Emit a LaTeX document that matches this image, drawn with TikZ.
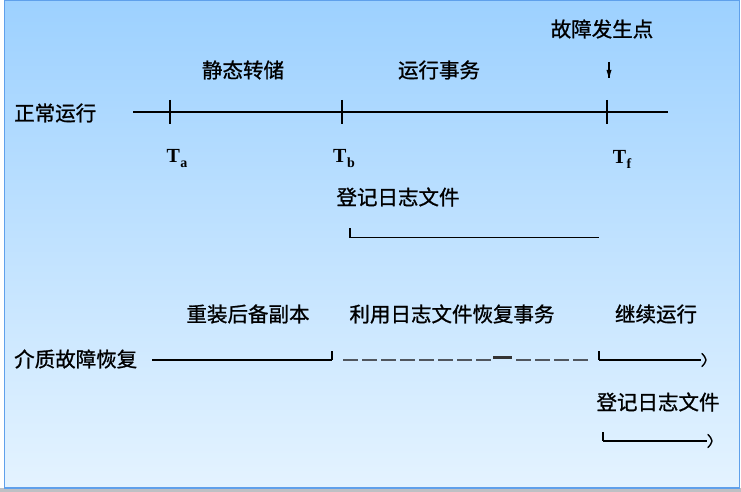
\documentclass[tikz,border=0pt]{standalone}
\usepackage{fontspec}
\setmainfont{Liberation Serif}
\newfontfamily\cjk{Noto Sans CJK SC}[FakeBold=1]
\definecolor{bgtop}{RGB}{157,209,255}
\definecolor{bgbot}{RGB}{228,243,255}
\definecolor{bord}{RGB}{95,160,235}
\definecolor{shadowgray}{RGB}{190,192,196}
\definecolor{dashgray}{RGB}{80,86,94}
\newcommand\Tsubs[1]{\textbf{T}\kern0.5pt\raisebox{-5pt}{\fontsize{14}{14}\selectfont\bfseries #1}}
\begin{document}
\begin{tikzpicture}[x=1pt,y=-1pt,
  lbl/.style={inner sep=0pt, font=\cjk\fontsize{20.5}{24}\selectfont},
  tnode/.style={inner sep=0pt, font=\fontsize{20}{22}\selectfont},
  axis/.style={line width=2pt, black},
  tickmark/.style={line width=2.4pt, black},
  dashseg/.style={line width=2pt, dashgray, dash pattern=on 14.5pt off 4.5pt},
  bolddash/.style={line width=2.6pt, black!80},
  barb/.style={line width=1.4pt, line join=round, line cap=round}]
\useasboundingbox (0,0) rectangle (741,492);
\fill[shadowgray] (0,488) rectangle (741,492);
\shade[top color=bgtop, bottom color=bgbot] (4.5,0.5) rectangle (739.5,488);
\draw[bord, line width=1.3pt] (4.5,0.6) rectangle (739.5,488);

% ---- upper part: normal running
\node[lbl] (fail) at (602,29) {故障发生点};
\node[lbl] (dump) at (243,70) {静态转储};
\node[lbl] (runtx) at (439,70) {运行事务};
\node[lbl, anchor=west] (normal) at (14,113) {正常运行};

\coordinate (l0) at (133,112);
\coordinate (l1) at (668,112);
\coordinate (ta) at (170,112);
\coordinate (tb) at (342,112);
\coordinate (tf) at (607,112);
\draw[axis] (l0) -- (l1);
\foreach \p in {ta,tb,tf}
  \draw[tickmark] ([yshift=12pt]\p) -- ([yshift=-12pt]\p);

\coordinate (arrtop) at (609,62);
\coordinate (arrbot) at (609,78);
\coordinate (arrl) at (606.5,70);
\coordinate (arrr) at (611.5,70);
\draw[line width=1.2pt] (arrtop) -- (arrbot);
\fill (arrl) -- (arrbot) -- (arrr) -- cycle;

\node[tnode] (Ta) at (177,159) {\Tsubs{a}};
\node[tnode] (Tb) at (344,159) {\Tsubs{b}};
\node[tnode] (Tf) at (622,159) {\Tsubs{f}};

\node[lbl] (log1) at (398,197) {登记日志文件};
\coordinate (b1top) at (350,228);
\coordinate (b1corner) at (350,237.5);
\coordinate (b1end) at (599,237.5);
\draw[line width=2.4pt] (b1top) -- (b1corner);
\draw[line width=1.8pt] (b1corner) -- (b1end);

% ---- lower part: media failure recovery
\node[lbl] (reload) at (248,314) {重装后备副本};
\node[lbl] (redo) at (452,314) {利用日志文件恢复事务};
\node[lbl] (cont) at (656,314) {继续运行};
\node[lbl, anchor=west] (media) at (14,359) {介质故障恢复};

\coordinate (m0) at (152,360);
\coordinate (m1) at (332,360);
\coordinate (m1up) at (332,351);
\coordinate (d0) at (343,359.5);
\coordinate (d1) at (491,359.5);
\coordinate (bd0) at (493,357.5);
\coordinate (bd1) at (512,357.5);
\coordinate (d2) at (516,359.5);
\coordinate (d3) at (589,359.5);
\coordinate (m2) at (599,360);
\coordinate (m2up) at (599,351);
\coordinate (m3) at (701,360);
\draw[axis] (m0) -- (m1);
\draw[tickmark] (m1) -- (m1up);
\draw[dashseg] (d0) -- (d1);
\draw[bolddash] (bd0) -- (bd1);
\draw[dashseg] (d2) -- (d3);
\draw[tickmark] (m2) -- (m2up);
\draw[axis] (m2) -- (m3);
\draw[barb] (702,353.5) .. controls (705,357) .. (706,360) .. controls (705,363) .. (702,366.5);

\node[lbl] (log2) at (658,402) {登记日志文件};
\coordinate (b2top) at (603,432);
\coordinate (b2corner) at (603,441);
\coordinate (b2end) at (707,441);
\draw[line width=2.4pt] (b2top) -- (b2corner);
\draw[line width=1.8pt] (b2corner) -- (b2end);
\draw[barb] (708,434.5) .. controls (711,438) .. (712,441) .. controls (711,444) .. (708,447.5);
\end{tikzpicture}
\end{document}
